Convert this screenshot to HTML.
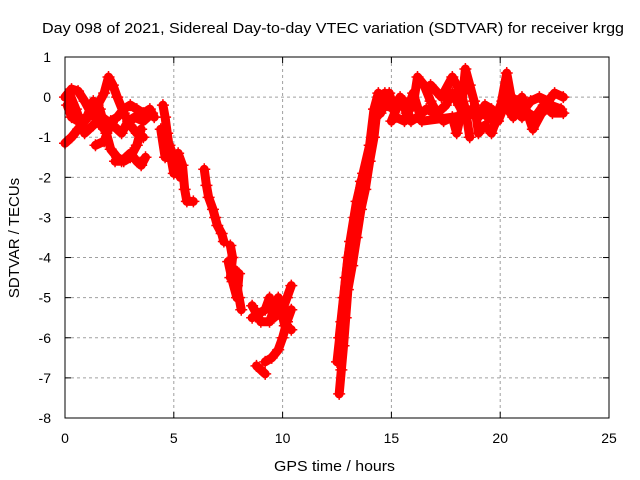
<!DOCTYPE html>
<html><head><meta charset="utf-8"><style>
html,body{margin:0;padding:0;background:#fff}
svg{display:block;font-family:"Liberation Sans",sans-serif}
</style></head><body>
<svg id="chart" width="640" height="480" viewBox="0 0 640 480">
<text x="42" y="33" textLength="582" lengthAdjust="spacingAndGlyphs" font-size="15">Day 098 of 2021, Sidereal Day-to-day VTEC variation (SDTVAR) for receiver krgg</text>
<text x="274" y="471" textLength="121" lengthAdjust="spacingAndGlyphs" font-size="15">GPS time / hours</text>
<text transform="translate(19,238) rotate(-90)" text-anchor="middle" font-size="15">SDTVAR / TECUs</text>
<g id="grid"></g>
<g id="ticks"></g>
<g id="series"></g>
<rect x="65" y="57" width="544" height="361" fill="none" stroke="#000" stroke-width="1"/>
</svg>
<script>
const xTicks=[0,5,10,15,20,25];
const yTicks=[1,0,-1,-2,-3,-4,-5,-6,-7,-8];
const trackA1=[[0,0],[0.3,0.2],[0.6,0.15],[0.9,-0.1],[1.2,-0.4],[1.5,-0.6],[1.8,-0.8],[2.1,-0.6],[2.4,-0.5],[2.7,-0.3],[3.0,-0.2],[3.3,-0.3],[3.6,-0.4],[3.9,-0.3],[4.1,-0.5]];
const trackA2=[[0,-1.15],[0.3,-1.0],[0.6,-0.8],[0.9,-0.6],[1.2,-0.4],[1.5,-0.2],[1.8,0.1],[2.0,0.5],[2.2,0.3],[2.4,0],[2.7,-0.4],[3.0,-0.7],[3.3,-0.9],[3.6,-1.0]];
const trackA3=[[0.1,-0.2],[0.3,-0.5],[0.6,-0.6],[1.0,-0.5],[1.3,-0.1],[1.6,-0.3],[1.9,-0.9],[2.1,-1.3],[2.4,-1.5],[2.7,-1.6],[3.0,-1.5],[3.3,-1.2],[3.5,-0.8]];
const trackA4=[[1.4,-1.2],[1.8,-1.1],[2.0,-0.8]];
const trackA5=[[2.3,-1.6],[2.6,-1.6],[3.0,-1.4],[3.3,-1.6],[3.5,-1.7],[3.7,-1.5]];
const trackA6=[[0.2,0.1],[0.5,-0.3],[0.9,-0.9],[1.3,-0.7],[1.7,-0.5],[2.2,-0.7],[2.6,-0.9],[2.9,-0.6],[3.2,-0.5],[3.6,-0.6],[4.0,-0.4]];
const trackB1=[[4.5,-0.2],[4.6,-0.5],[4.7,-0.9],[4.8,-1.3],[4.9,-1.6],[5.0,-1.9],[5.2,-1.4],[5.4,-1.7],[5.5,-2.3],[5.6,-2.6],[5.9,-2.6]];
const trackB2=[[4.4,-0.8],[4.6,-1.5],[4.8,-1.2],[5.0,-1.5],[5.3,-2.0]];
const trackC=[[6.4,-1.8],[6.5,-2.2],[6.6,-2.5],[6.8,-2.8],[6.9,-3.0],[7.0,-3.2],[7.2,-3.4],[7.3,-3.6]];
const trackD=[[7.6,-3.7],[7.7,-4.0],[7.6,-4.5],[7.8,-4.3],[7.9,-4.7],[8.0,-5.0],[8.1,-5.3]];
const trackD2=[[7.5,-4.1],[7.7,-4.6],[7.9,-5.0],[8.0,-4.4]];
const trackE=[[8.6,-5.5],[8.9,-5.4],[9.2,-5.3],[9.4,-5.0],[9.6,-5.5],[9.8,-5.4],[10.0,-5.3],[10.2,-5.0],[10.4,-4.7]];
const trackE2=[[8.6,-5.2],[9.0,-5.6],[9.4,-5.6],[9.8,-5.0],[10.1,-5.7],[10.4,-5.8]];
const trackF=[[9.2,-6.6],[9.5,-6.5],[9.8,-6.3],[10.0,-6.0],[10.2,-5.6],[10.4,-5.3]];
const trackG=[[8.8,-6.7],[9.2,-6.9]];
const trackH1=[[12.6,-7.4],[12.7,-6.8],[12.8,-6.2],[12.9,-5.5],[13.0,-4.8],[13.2,-4.2],[13.4,-3.5],[13.6,-2.8],[13.8,-2.3],[14.0,-1.6],[14.2,-1.0],[14.3,-0.5],[14.5,-0.2],[14.7,0.1]];
const trackH2=[[12.6,-6.0],[12.8,-5.0],[13.0,-4.0],[13.3,-3.0],[13.6,-2.1]];
const trackH3=[[12.5,-6.6],[12.7,-5.6],[12.9,-4.5],[13.1,-3.6],[13.4,-2.6],[13.7,-1.9],[14.0,-1.2],[14.2,-0.3],[14.4,0.1]];
const trackI1=[[14.4,0],[14.8,-0.2],[15.1,-0.3],[15.4,0],[15.7,-0.4],[16.0,-0.2],[16.2,0.5],[16.5,0.3],[16.8,-0.1],[17.1,-0.4],[17.5,-0.2],[17.8,0.1],[18.1,-0.2],[18.4,-0.5],[18.7,-0.3],[19.0,-0.5],[19.3,-0.2],[19.6,-0.3],[19.9,-0.6],[20.2,-0.2],[20.5,0],[20.8,-0.1],[21.1,-0.3],[21.4,-0.1],[21.8,0],[22.2,-0.1],[22.5,0.1],[22.9,0]];
const trackI2=[[15.0,-0.6],[15.3,-0.2],[15.6,-0.1],[15.9,-0.6],[16.2,-0.5],[16.6,-0.3],[17.0,-0.4],[17.4,-0.6],[17.8,-0.5],[18.0,-0.9],[18.2,-0.4],[18.4,0.7],[18.6,0.3],[18.8,-0.1],[19.0,-0.9],[19.3,-0.7],[19.6,-0.9],[20.0,-0.3],[20.3,0.6],[20.6,-0.3],[21.0,-0.5],[21.3,-0.4],[21.6,-0.5],[22.0,-0.2],[22.4,-0.4],[22.9,-0.4]];
const trackI3=[[16.8,0.3],[17.3,0.0],[17.8,0.5],[18.2,0.1],[18.4,-0.3],[18.6,-1.0]];
const trackI4=[[14.5,-0.4],[14.9,0.1],[15.2,-0.5],[15.6,-0.6],[16.0,0.1],[16.4,-0.6],[19.2,-0.4],[19.7,-0.6],[20.1,-0.1],[20.6,-0.5],[21.0,0],[21.5,-0.8],[21.9,-0.4],[22.3,-0.2],[22.8,-0.3]];
const tracks=[trackA1,trackA2,trackA3,trackA4,trackA5,trackA6,trackB1,trackB2,trackC,trackD,trackD2,trackE,trackE2,trackF,trackG,trackH1,trackH2,trackH3,trackI1,trackI2,trackI3,trackI4];

const NS='http://www.w3.org/2000/svg';
const X0=65,X1=609,Y0=57,Y1=418;
function xs(t){return X0+(t-0)/(25-0)*(X1-X0);}
function ys(v){return Y0+(1-v)/(1-(-8))*(Y1-Y0);}
function mk(tag,attrs,parent){const e=document.createElementNS(NS,tag);for(const k in attrs)e.setAttribute(k,attrs[k]);parent.appendChild(e);return e;}
const grid=document.getElementById('grid'),ticks=document.getElementById('ticks'),series=document.getElementById('series');
xTicks.forEach(t=>{
  const x=xs(t);
  if(t>0&&t<25){const g=mk('line',{x1:x,x2:x,y1:Y0,y2:Y1,stroke:'#a0a0a0','stroke-dasharray':'3,3','stroke-width':1},grid);
  
  }
  mk('line',{x1:x,x2:x,y1:Y1,y2:Y1-6,stroke:'#000'},ticks);
  mk('line',{x1:x,x2:x,y1:Y0,y2:Y0+6,stroke:'#000'},ticks);
  const l=mk('text',{x:x,y:443,'text-anchor':'middle','font-size':14},ticks);l.textContent=t;
  
  
});
yTicks.forEach(v=>{
  const y=ys(v);
  if(v<1&&v>-8){const g=mk('line',{x1:X0,x2:X1,y1:y,y2:y,stroke:'#a0a0a0','stroke-dasharray':'3,3','stroke-width':1},grid);
  
  }
  mk('line',{x1:X0,x2:X0+6,y1:y,y2:y,stroke:'#000'},ticks);
  mk('line',{x1:X1,x2:X1-6,y1:y,y2:y,stroke:'#000'},ticks);
  const l=mk('text',{x:51,y:y+5,'text-anchor':'end','font-size':14},ticks);l.textContent=v;
  
  
});
tracks.forEach(tr=>{
  const pts=tr.map(p=>xs(p[0])+','+ys(p[1])).join(' ');
  const pl=mk('polyline',{points:pts,fill:'none',stroke:'#ff0000','stroke-width':9,'stroke-linejoin':'round','stroke-linecap':'round'},series);
  
  
  tr.forEach(p=>{
    const x=xs(p[0]),y=ys(p[1]);
    const m=mk('path',{d:`M${x-6},${y}H${x+6}M${x},${y-6}V${y+6}`,stroke:'#ff0000','stroke-width':1.5},series);
    
    
  });
});
</script>
</body></html>
